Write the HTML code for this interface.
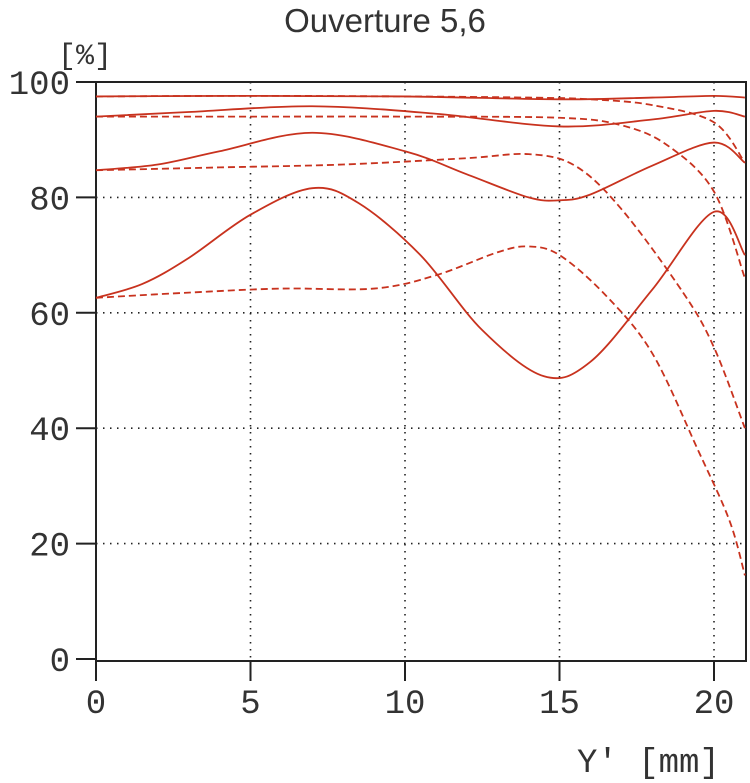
<!DOCTYPE html>
<html><head><meta charset="utf-8"><style>
html,body{margin:0;padding:0;background:#fff;}
svg{display:block;}
text{font-family:"Liberation Mono",monospace;fill:#333;}
</style></head><body>
<svg id="s" width="750" height="783" viewBox="0 0 750 783">
<text x="385" y="32" text-anchor="middle" style="font-family:'Liberation Sans',sans-serif;font-size:33px" fill="#000">Ouverture 5,6</text>
<text x="58" y="64" style="font-size:30px">[%]</text>
<g id="grid" stroke="#222" stroke-width="1.6" stroke-dasharray="1.5 5.5" fill="none"></g>
<g id="ax" stroke="#222" stroke-width="2" fill="none"></g>
<g id="lab" style="font-size:34px"></g>
<text x="577" y="772" style="font-size:34px">Y'  [mm]</text>
<g id="cur" fill="none" stroke="#c8321e" stroke-width="1.8"></g>
</svg>
<script>
const X=x=>96+30.9*x, Y=v=>659-5.77*v, NS="http://www.w3.org/2000/svg";
function el(p,t,a,txt){const e=document.createElementNS(NS,t);for(const k in a)e.setAttribute(k,a[k]);if(txt!==undefined)e.textContent=txt;document.getElementById(p).appendChild(e);}
for(let v=20;v<100;v+=20) el('grid','line',{x1:96,x2:746,y1:Y(v),y2:Y(v)});
for(let x=5;x<=20;x+=5) el('grid','line',{x1:X(x),x2:X(x),y1:82,y2:661});
el('ax','rect',{x:96,y:82,width:650,height:579});
for(let v=0;v<=100;v+=20){el('ax','line',{x1:76,x2:96,y1:Y(v),y2:Y(v)});el('lab','text',{x:70,y:Y(v)+12,'text-anchor':'end'},v);}
for(let x=0;x<=20;x+=5){el('ax','line',{x1:X(x),x2:X(x),y1:661,y2:681});el('lab','text',{x:X(x),y:713,'text-anchor':'middle'},x);}
const S=[
[[0,97.5],[5,97.6],[10,97.5],[15,97],[18,97.3],[20,97.6],[21,97.3]],
[[0,94],[3,94.8],[7,95.8],[11,94.5],[15,92.3],[18,93.5],[20,95],[21,94]],
[[0,84.7],[2,85.7],[4,88],[7,91.2],[10,88],[12,84],[14,80],[15,79.5],[16,80.5],[18,85.5],[20,89.5],[21,86]],
[[0,62.6],[1.5,65],[3,69.5],[5,77],[7,81.6],[8.5,79],[10.5,70],[12.5,57],[14.5,49],[16,51.5],[18,64],[20,77.5],[21,70]]];
const D=[
[[0,97.5],[5,97.6],[10,97.5],[14,97.3],[16,97],[18,96],[20,93],[21,86]],
[[0,94],[5,94],[10,94],[15,93.8],[17,92.5],[18.5,89],[20,81],[21,66]],
[[0,84.7],[4,85.2],[8,85.7],[12,86.8],[14,87.5],[15.5,85.5],[17,78],[19,63.5],[20,54],[21,40]],
[[0,62.6],[3,63.5],[6,64.2],[9,64.2],[11,66.5],[13,70.5],[14,71.5],[15,70],[16.5,63],[18,53],[19.5,36],[20.5,24],[21,14.5]]];
function path(pts){const p=pts.map(([x,v])=>[X(x),Y(v)]);let d=`M${p[0][0]},${p[0][1]}`;
for(let i=0;i<p.length-1;i++){const p0=p[Math.max(0,i-1)],p1=p[i],p2=p[i+1],p3=p[Math.min(p.length-1,i+2)];
d+=` C${p1[0]+(p2[0]-p0[0])/6},${p1[1]+(p2[1]-p0[1])/6} ${p2[0]-(p3[0]-p1[0])/6},${p2[1]-(p3[1]-p1[1])/6} ${p2[0]},${p2[1]}`;}return d;}
S.forEach(s=>el('cur','path',{d:path(s)}));
D.forEach(s=>el('cur','path',{d:path(s),'stroke-dasharray':'7 4'}));
</script>
</body></html>
